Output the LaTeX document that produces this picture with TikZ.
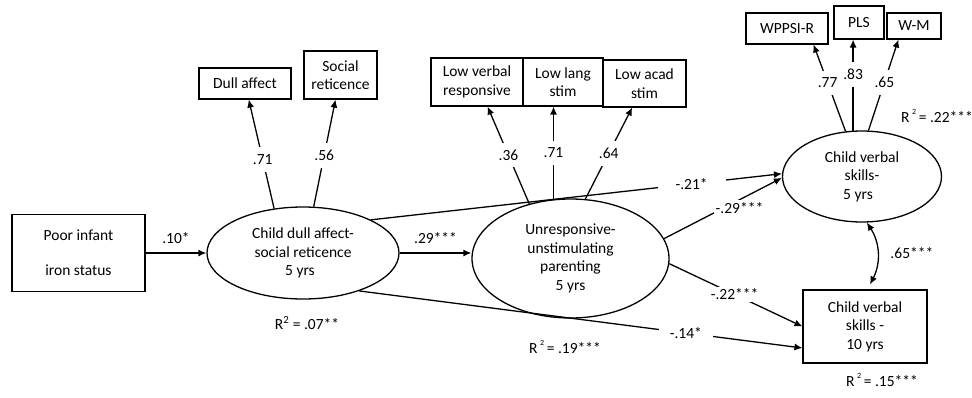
\documentclass[tikz,border=0pt]{standalone}
\usepackage{fontspec}
\setmainfont{Carlito}
\usetikzlibrary{shapes.geometric,arrows.meta,calc}

% R-squared with a plain superscript and with a raised, detached one
\newcommand{\rsqplain}{R\textsuperscript{2}}
\newcommand{\rsqhigh}{R\,\raisebox{1.15ex}{\fontsize{8}{8}\selectfont 2}\,}

\begin{document}
\begin{tikzpicture}[x=1pt,y=-1pt,
  every node/.style={font=\fontsize{15.5}{18.5}\selectfont},
  box/.style={draw,line width=1.1pt,rectangle,inner sep=0pt,align=center},
  latent/.style={draw,line width=1.3pt,ellipse,inner sep=0pt,align=center},
  arr/.style={line width=1.3pt,-{Latex[length=8pt,width=7pt]}},
  dbl/.style={line width=1.3pt,{Latex[length=8pt,width=7pt]}-{Latex[length=8pt,width=7pt]}},
  coef/.style={fill=white,inner sep=2pt},
  ind/.style={fill=white,inner xsep=1pt,inner ysep=7pt},
]
\useasboundingbox[fill=white] (0,0) rectangle (972,397);

% observed predictor and latent constructs
\node[box,minimum width=133pt,minimum height=77pt] (infant) at (78.5,253) {Poor infant\\[16.5pt]iron status};
\node[latent,minimum width=192pt,minimum height=92pt] (dull) at (303,253) {Child dull affect-\\social reticence\\5 yrs\hspace*{6pt}};
\node[latent,minimum width=197pt,minimum height=119pt] (parent) at (570.5,258.5) {Unresponsive-\\unstimulating\\parenting\\5 yrs};
\node[latent,minimum width=159pt,minimum height=91pt] (verbal5) at (862,176.5) {Child verbal\\skills-\\5 yrs\hspace*{8pt}};
\node[box,minimum width=124pt,minimum height=73pt] (verbal10) at (865,326.5) {Child verbal\\skills -\\10 yrs};

% indicators
\node[box,minimum width=92pt,minimum height=31pt] (dullaff) at (245,83.5) {Dull affect};
\node[box,minimum width=73pt,minimum height=48pt] (social) at (340.5,75) {Social\\reticence};
\node[box,minimum width=92pt,minimum height=48pt] (lowverb) at (477,82) {Low verbal\\responsive};
\node[box,minimum width=80pt,minimum height=48pt] (lowlang) at (563,82) {Low lang\\stim};
\node[box,minimum width=83pt,minimum height=47pt] (lowacad) at (644.5,83.5) {Low acad\\stim};
\node[box,minimum width=82pt,minimum height=31pt] (wppsi) at (787,28.5) {WPPSI-R};
\node[box,minimum width=50pt,minimum height=33pt] (pls) at (859,22.5) {PLS};
\node[box,minimum width=54pt,minimum height=26pt] (wm) at (914,26) {W-M};

% loadings
\draw[arr] (dull.123) -- node[ind,pos=.45]{.71} (dullaff);
\draw[arr] (dull.77) -- node[ind,pos=.48]{.56} (social);
\draw[arr] (parent.127) -- node[ind,pos=.5]{.36} (lowverb);
\draw[arr] (parent.106) -- node[ind,pos=.5]{.71} (parent.106 |- lowlang.south);
\draw[arr] (parent.76) -- node[ind,pos=.5]{.64} (lowacad);
\draw[arr] (verbal5.110) -- node[ind,pos=.56]{.77} ($(wppsi.south east)+(-15,0)$);
\draw[arr] (verbal5.101) -- node[ind,pos=.62]{.83} (verbal5.101 |- pls.south);
\draw[arr] (verbal5.82) -- node[ind,pos=.53]{.65} ($(wm.south west)+(12,0)$);

% structural paths
\draw[arr] (infant) -- node[above=5pt]{.10*} (dull);
\draw[arr] (dull.east) -- node[above=5pt]{.29***} (dull.east -| parent.west);
\draw[arr] (dull.26) -- node[coef,pos=0.78,inner xsep=18pt]{-.21*} (verbal5.178);
\draw[arr] (parent.12) -- node[coef,pos=0.64,yshift=-8pt]{-.29***} (verbal5.181);
\draw[arr] (parent.-3) -- node[coef,pos=0.49,inner xsep=7pt]{-.22***} (verbal10.west);
\draw[arr] (dull.-34) -- node[coef,pos=0.737,inner xsep=11pt]{-.14*} ($(verbal10.west)+(0,21.5)$);
\draw[dbl] (verbal5.-84) to[bend left=30] node[right=9pt]{.65***} ($(verbal10.north)+(5,-5)$);

% explained variance
\node (r1) at (307,323) {\rsqplain{} = .07**};
\node (r2) at (565,347) {\rsqhigh= .19***};
\node (r3) at (937,116) {\rsqhigh= .22***};
\node (r4) at (882,380) {\rsqhigh= .15***};
\end{tikzpicture}
\end{document}
